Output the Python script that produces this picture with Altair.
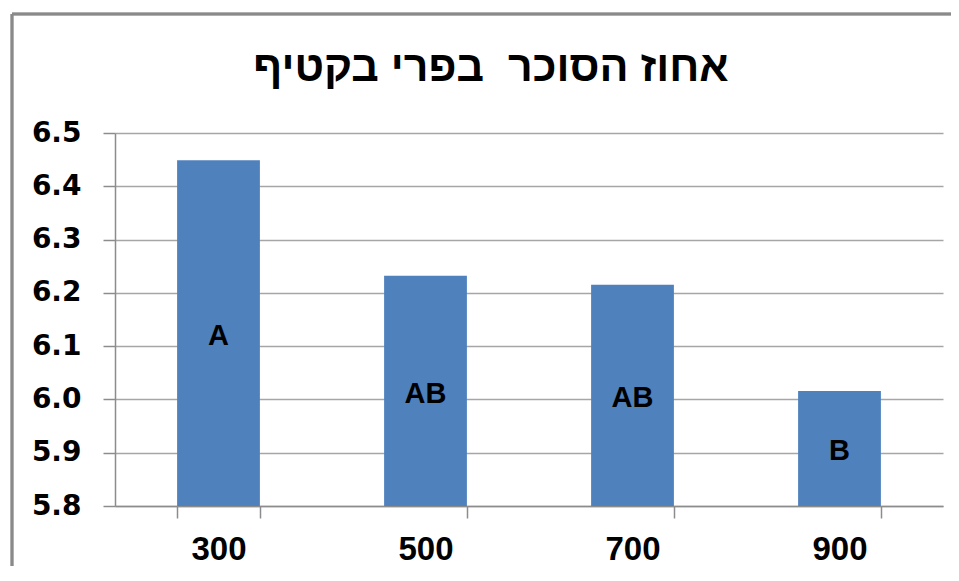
import altair as alt
import pandas as pd

title_text = "אחוז הסוכר \u00a0בפרי בקטיף"
categories = ["300", "500", "700", "900"]
values = [6.449, 6.232, 6.215, 6.016]
letters = ["A", "AB", "AB", "B"]
y_ticks = [5.8, 5.9, 6.0, 6.1, 6.2, 6.3, 6.4, 6.5]
base = 5.8

df = pd.DataFrame({"cat": categories, "value": values, "letter": letters})

FONT_Y = "DejaVu Sans"
FONT = "Liberation Sans"
GRID = "#A6A6A6"
AXIS = "#8C8C8C"
BAR = "#4F81BD"

x_enc = alt.X(
    "cat:N",
    sort=categories,
    scale=alt.Scale(paddingInner=0.6, paddingOuter=0.3),
    axis=alt.Axis(
        title=None, labelAngle=0, tickBand="extent", tickSize=12,
        tickColor=AXIS, domainColor=AXIS, domainWidth=1.5, tickWidth=1.5,
        labelFont=FONT, labelFontSize=33, labelFontWeight="bold",
        labelColor="black", labelPadding=15, grid=False,
    ),
)
y_scale = alt.Scale(domain=[y_ticks[0], y_ticks[-1]], zero=False, nice=False)

bars = alt.Chart(df).mark_bar(color=BAR).encode(
    x=x_enc,
    y=alt.Y(
        "value:Q",
        scale=y_scale,
        axis=alt.Axis(
            title=None, values=y_ticks, format=".1f", tickSize=12,
            tickColor=AXIS, domainColor=AXIS, domainWidth=1.5, tickWidth=1.5,
            gridColor=GRID, gridWidth=1.5,
            labelFont=FONT_Y, labelFontSize=28, labelFontWeight="bold",
            labelColor="black", labelPadding=22,
        ),
    ),
    y2=alt.datum(base),
)

labels = alt.Chart(df).transform_calculate(
    mid=f"(datum.value + {base}) / 2"
).mark_text(
    font=FONT, fontSize=29, fontWeight="bold", color="black",
    baseline="middle", dy=3,
).encode(
    x=alt.X("cat:N", sort=categories),
    y=alt.Y("mid:Q", scale=y_scale),
    text="letter:N",
)

border_top = alt.Chart(df).mark_rule(color="#8A8A8A", strokeWidth=2.5).encode(
    x=alt.value(-103), x2=alt.value(836), y=alt.value(-119)
)
border_left = alt.Chart(df).mark_rule(color="#8A8A8A", strokeWidth=2.5).encode(
    x=alt.value(-103), y=alt.value(-119), y2=alt.value(440)
)

chart = alt.layer(bars, labels, border_top, border_left).properties(
    width=828,
    height=373,
    title=alt.TitleParams(
        title_text, font=FONT, fontSize=43, fontWeight="bold", color="black",
        anchor="middle", frame="group", dx=-38, offset=-77,
    ),
    autosize=alt.AutoSizeParams(type="none"),
    padding={"left": 107, "top": 125, "right": 8, "bottom": 60},
).configure(background="white").configure_view(stroke=None)

chart.save("out.html", embed_options={"renderer": "svg", "actions": False})
